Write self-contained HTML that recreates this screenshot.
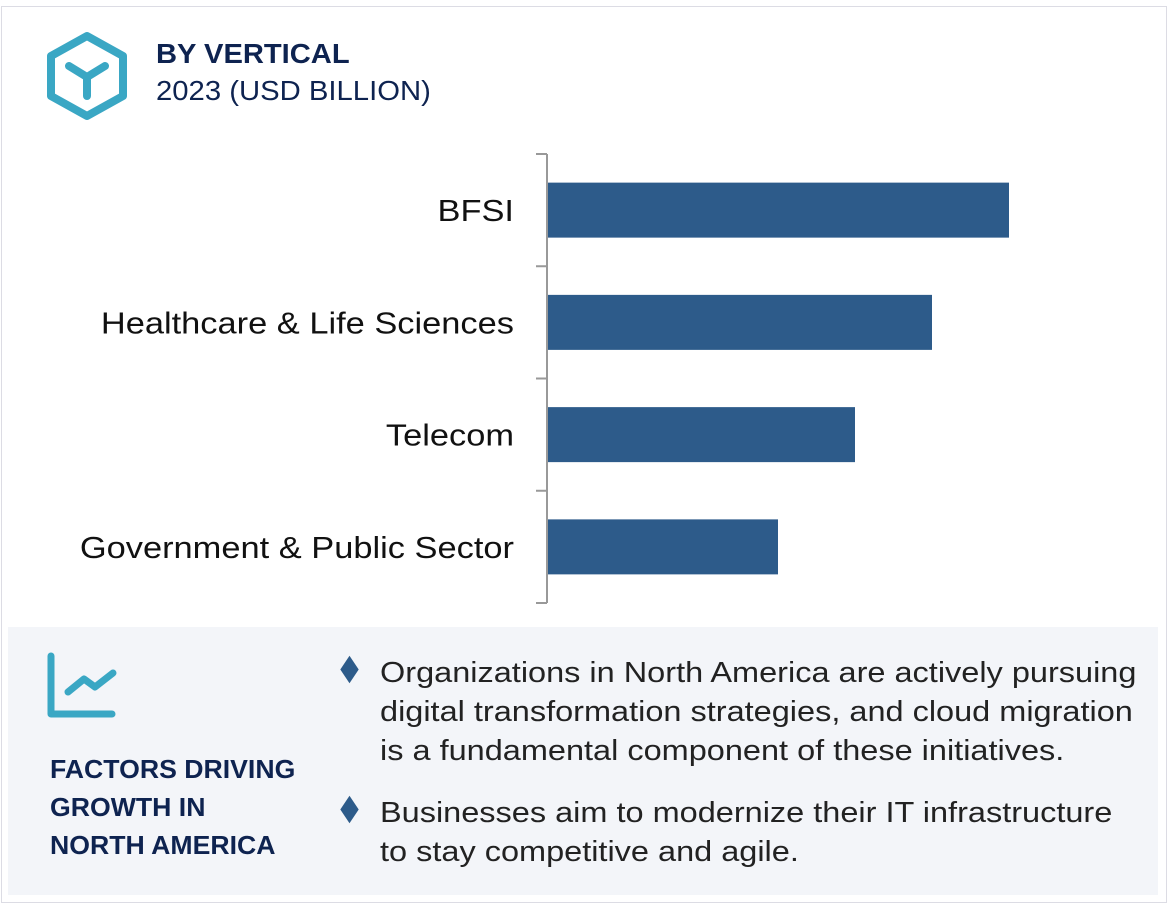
<!DOCTYPE html>
<html><head><meta charset="utf-8"><style>
body{margin:0;width:1170px;height:905px;background:#fff;font-family:"Liberation Sans",sans-serif;position:relative;overflow:hidden}
.frame{position:absolute;left:1px;top:6px;width:1166px;height:897px;border:1px solid #dcdce4;box-sizing:border-box}
.t1{position:absolute;left:156px;top:38px;font-size:28px;font-weight:bold;color:#0e2350;transform:scaleX(1.04);transform-origin:left}
.t2{position:absolute;left:156px;top:75px;font-size:28px;color:#0e2350;transform:scaleX(1.045);transform-origin:left}
.panel{position:absolute;left:8px;top:627px;width:1150px;height:268px;background:#f3f5f9}
.ft{position:absolute;left:50px;top:750px;font-size:26px;font-weight:bold;color:#0e2350;line-height:38px;transform:scaleX(1.025);transform-origin:left}
.b{position:absolute;left:380px;font-size:29px;color:#222;line-height:39px;white-space:nowrap;transform:scaleX(1.12);transform-origin:left}
.d{position:absolute;left:343px;width:13px;height:13px;background:#2d5b8a;transform:scaleY(1.5) rotate(45deg)}
</style></head><body>
<div class="frame"></div>
<svg style="position:absolute;left:45px;top:30px" width="84" height="92">
<polygon points="42,6 78,26 78,66 42,86 6,66 6,26" fill="none" stroke="#3aa7c4" stroke-width="8" stroke-linejoin="round"/>
<path d="M24,36 L42,47 L60,36 M42,47 L42,66" fill="none" stroke="#3aa7c4" stroke-width="8" stroke-linecap="round"/>
</svg>
<div class="t1">BY VERTICAL</div>
<div class="t2">2023 (USD BILLION)</div>
<svg id="chart" style="position:absolute;left:0;top:0" width="1170" height="620"></svg>
<div class="panel"></div>
<svg style="position:absolute;left:45px;top:650px" width="75" height="72">
<path d="M6,6 L6,64 L67,64" fill="none" stroke="#3aa7c4" stroke-width="7" stroke-linecap="round" stroke-linejoin="round"/>
<path d="M23,42 L39,29 L50,37 L68,23" fill="none" stroke="#3aa7c4" stroke-width="7" stroke-linecap="round" stroke-linejoin="round"/>
</svg>
<div class="ft">FACTORS DRIVING<br>GROWTH IN<br>NORTH AMERICA</div>
<div class="d" style="top:663px"></div>
<div class="b" style="top:654px">Organizations in North America are actively pursuing<br>digital transformation strategies, and cloud migration<br>is a fundamental component of these initiatives.</div>
<div class="d" style="top:803px"></div>
<div class="b" style="top:794px">Businesses aim to modernize their IT infrastructure<br>to stay competitive and agile.</div>
<script>
const categories=["BFSI","Healthcare & Life Sciences","Telecom","Government & Public Sector"];
const values=[6,5,4,3];
const NS="http://www.w3.org/2000/svg";
const svg=document.getElementById('chart');
const x0=547,pxPerUnit=77,top0=154,band=112.25,barH=55;
const xs=v=>x0+v*pxPerUnit;
const yb=i=>top0+i*band;
function mk(t,a){const e=document.createElementNS(NS,t);for(const k in a)e.setAttribute(k,a[k]);svg.appendChild(e);return e;}
const ax=mk('line',{x1:x0,y1:top0,x2:x0,y2:top0+band*categories.length,stroke:'#999','stroke-width':2});


for(let i=0;i<=categories.length;i++){
 const t=mk('line',{x1:x0-11,y1:yb(i),x2:x0,y2:yb(i),stroke:'#999','stroke-width':2});
 
 
}
categories.forEach((c,i)=>{
 const r=mk('rect',{x:x0+1,y:yb(i)+(band-barH)/2,width:xs(values[i])-x0-1,height:barH,fill:'#2d5b8a'});
 
 
 const t=mk('text',{x:514,y:yb(i)+band/2+11,'text-anchor':'end','font-size':31,fill:'#111','font-family':'Liberation Sans, sans-serif'});
 t.textContent=c;
 
 
 const w=t.getComputedTextLength();
 t.setAttribute('textLength',w*1.11);
 t.setAttribute('lengthAdjust','spacingAndGlyphs');
});
</script>
</body></html>
